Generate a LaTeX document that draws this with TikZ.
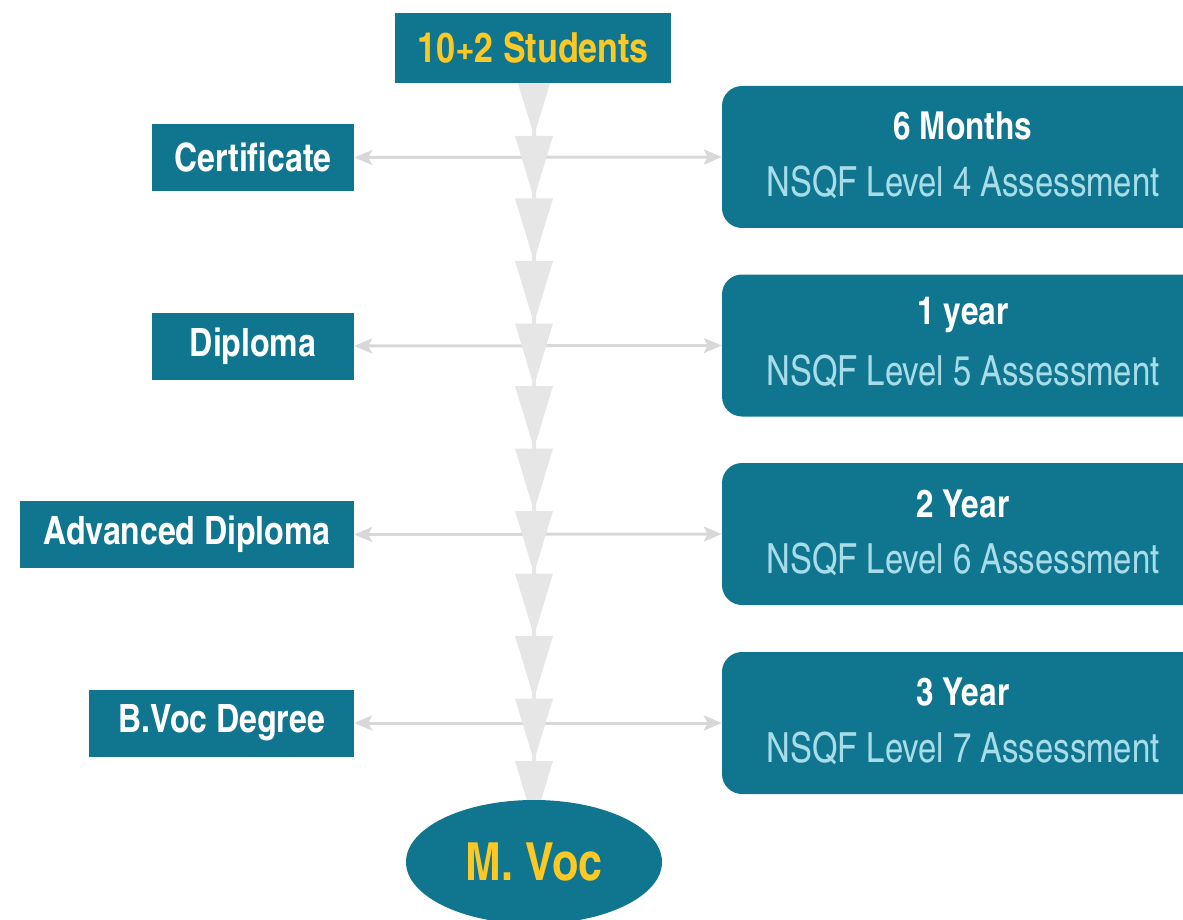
\documentclass[tikz,border=0pt]{standalone}
\usepackage{fontspec}
\setmainfont{TeX Gyre Heros Cn}
\newfontfamily\narrowheros[FakeStretch=0.965]{TeX Gyre Heros Cn}
\usetikzlibrary{shapes.geometric,arrows.meta}
\definecolor{tealbox}{RGB}{16,118,143}
\definecolor{goldtext}{RGB}{252,200,36}
\definecolor{paleblue}{RGB}{168,220,232}
\definecolor{chaingray}{RGB}{230,230,230}
\definecolor{linegray}{RGB}{216,216,216}
\pgfdeclarelayer{bg}
\pgfdeclarelayer{mid}
\pgfsetlayers{bg,mid,main}
\tikzset{
  lbox/.style={fill=tealbox, text=white, inner sep=0pt, minimum height=67pt,
    font=\bfseries\fontsize{39}{41}\selectfont},
  topbox/.style={fill=tealbox, text=goldtext, inner sep=0pt,
    font=\bfseries\fontsize{41.5}{44}\selectfont},
  rbox/.style={fill=tealbox, rounded corners=20pt, inner sep=0pt,
    minimum width=482pt, minimum height=142pt},
  headtxt/.style={text=white, inner sep=0pt, font=\bfseries\fontsize{38.5}{41}\selectfont},
  subtxt/.style={text=paleblue, inner sep=0pt, font=\narrowheros\fontsize{41.5}{44}\selectfont},
  goalnode/.style={ellipse, fill=tealbox, text=goldtext, inner sep=0pt,
    minimum width=256pt, minimum height=124pt, font=\bfseries\fontsize{52.5}{56}\selectfont},
  conn/.style={draw=linegray, line width=3pt,
    {Stealth[length=18pt,width=15pt,inset=4pt]}-{Stealth[length=18pt,width=15pt,inset=4pt]}},
  chain/.style={fill=chaingray}
}
\begin{document}
\begin{tikzpicture}[x=1pt,y=-1pt]
\useasboundingbox (0,0) rectangle (1183,920);
% top and bottom
\node[topbox, minimum width=276pt, minimum height=70pt] (top) at (533,48) {10+2 Students};
\node[goalnode] (mvoc) at (534,862) {M. Voc};
% left boxes
\node[lbox, minimum width=202pt] (cert) at (253,157.5) {Certificate};
\node[lbox, minimum width=202pt] (dipl) at (253,346) {Diploma};
\node[lbox, minimum width=334pt] (adv) at (187,534.5) {Advanced Diploma};
\node[lbox, minimum width=265pt] (bvoc) at (221.5,723) {B.Voc Degree};
% right boxes
\node[rbox] (r1) at (963,157) {};
\node[rbox] (r2) at (963,345.5) {};
\node[rbox] (r3) at (963,534) {};
\node[rbox] (r4) at (963,723) {};
\node[headtxt] (r1h) at (963,126.5) {6 Months};
\node[subtxt] (r1s) at (963,182) {NSQF Level 4 Assessment};
\node[headtxt] (r2h) at (963,315) {1 year};
\node[subtxt] (r2s) at (963,371) {NSQF Level 5 Assessment};
\node[headtxt] (r3h) at (963,503.5) {2 Year};
\node[subtxt] (r3s) at (963,559.5) {NSQF Level 6 Assessment};
\node[headtxt] (r4h) at (963,692.5) {3 Year};
\node[subtxt] (r4s) at (963,748) {NSQF Level 7 Assessment};
% connectors
\begin{pgfonlayer}{bg}
\draw[conn] (cert.east) -- (r1.west);
\draw[conn] (dipl.east) -- (r2.west);
\draw[conn] (adv.east) -- (r3.west);
\draw[conn] (bvoc.east) -- (r4.west);
\end{pgfonlayer}
% chain of triangles
\begin{pgfonlayer}{mid}
\foreach \i in {0,...,11} {
  \pgfmathsetmacro{\yy}{73.5+62.5*\i}
  \fill[chain] (515,\yy) -- (553,\yy) -- (536,\yy+56) -- (536,\yy+63) -- (532,\yy+63) -- (532,\yy+56) -- cycle;
}
\end{pgfonlayer}
\end{tikzpicture}
\end{document}
